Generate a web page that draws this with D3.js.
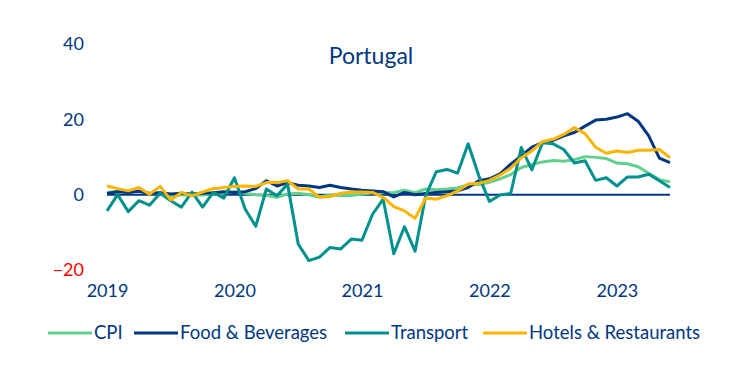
<!DOCTYPE html>
<html>
<head>
<meta charset="utf-8">
<script src="https://cdn.jsdelivr.net/npm/d3@7"></script>
<style>
  body { margin: 0; background: #fff; }
  svg { display: block; font-family: Lato, "Open Sans", sans-serif; }
</style>
</head>
<body>
<svg id="chart" width="752" height="375"></svg>
<script>
// monthly, Jan 2019 .. Jun 2023 (y/y %)
const startYear = 2019;
const yearLabels = ["2019", "2020", "2021", "2022", "2023"];
const yTicks = [-20, 0, 20, 40];

const cpi = [
  0.6, 0.9, 0.8, 0.9, 0.4, 0.5, -0.3, -0.1, -0.1, -0.1, 0.2, 0.4,
  0.8, 0.4, 0.0, -0.2, -0.7, 0.2, 0.4, 0.0, -0.6, -0.1, -0.2, -0.2,
  0.2, 0.5, 0.5, 0.6, 1.2, 0.5, 1.5, 1.3, 1.5, 1.8, 2.6, 2.7,
  3.3, 4.2, 5.3, 7.2, 8.0, 8.7, 9.1, 8.9, 9.3, 10.1, 9.9, 9.6,
  8.4, 8.2, 7.4, 5.7, 4.0, 3.4
];
const food = [
  0.3, 0.8, 0.6, 0.9, 0.3, 0.5, 0.2, 0.4, 0.2, 0.4, 0.5, 0.8,
  0.6, 0.8, 1.6, 3.7, 2.3, 3.2, 2.5, 2.3, 1.9, 2.5, 1.9, 1.5,
  1.2, 1.0, 0.8, -0.6, 0.6, 0.0, 0.3, 0.6, 0.8, 1.0, 1.9, 3.7,
  4.2, 5.5, 8.1, 10.3, 12.6, 13.8, 14.4, 15.6, 16.5, 18.2, 19.8, 20.0,
  20.6, 21.5, 19.5, 15.6, 9.7, 8.5
];
const transport = [
  -4.3, 0.0, -4.5, -1.6, -2.8, 0.4, -1.6, -3.3, 0.7, -3.3, 0.6, -0.9,
  4.5, -3.8, -8.4, 1.5, -0.3, 2.8, -13.1, -17.5, -16.6, -14.0, -14.4, -11.8,
  -12.1, -5.2, -1.2, -15.7, -8.5, -15.0, -0.3, 6.1, 6.7, 5.7, 13.5, 5.0,
  -1.8, -0.1, 0.3, 12.5, 6.6, 13.8, 13.5, 12.0, 8.4, 9.0, 3.8, 4.5,
  2.3, 4.7, 4.7, 5.4, 3.7, 1.9
];
const hotels = [
  2.3, 1.6, 1.0, 1.9, 0.1, 2.2, -1.4, 0.6, -0.3, 0.7, 1.6, 1.9,
  2.2, 2.3, 2.2, 3.2, 3.2, 3.7, 1.5, 1.5, -0.7, -0.5, 0.4, 0.7,
  0.7, 0.6, -0.7, -3.2, -4.3, -6.3, -0.9, -1.2, -0.3, 1.0, 2.8, 3.0,
  3.8, 5.2, 7.0, 9.8, 11.6, 14.1, 14.7, 16.0, 17.8, 16.2, 12.6, 11.0,
  11.6, 11.2, 11.8, 11.8, 12.0, 9.8
];

const seriesNames = ["CPI", "Food & Beverages", "Transport", "Hotels & Restaurants"];
const seriesColors = ["#62d08d", "#003781", "#00908d", "#fbb400"];
const seriesData = [cpi, food, transport, hotels];

const navy = "#003781";
const svg = d3.select("#chart");

const x = d3.scaleLinear().domain([0, cpi.length - 1]).range([107, 670]);
const y = d3.scaleLinear().domain([-20, 40]).range([270, 44]);

// title
svg.append("text")
  .attr("x", 371)
  .attr("y", 64)
  .attr("text-anchor", "middle")
  .attr("fill", navy)
  .style("font-size", "23px")
  .text("Portugal");

// y axis labels
const yAxis = svg.append("g")
  .attr("transform", "translate(84,0)")
  .call(d3.axisLeft(y).tickValues(yTicks).tickSize(0).tickPadding(0));
yAxis.select(".domain").remove();
yAxis.selectAll("text")
  .style("font-family", "Lato, sans-serif")
  .style("font-size", "18px")
  .attr("fill", (d) => (d < 0 ? "#ff0000" : navy));

// x axis labels (January of each year)
const xAxis = svg.append("g")
  .attr("transform", "translate(0,284)")
  .call(
    d3.axisBottom(x)
      .tickValues(yearLabels.map((d, i) => i * 12))
      .tickFormat((d) => String(startYear + d / 12))
      .tickSize(0)
      .tickPadding(0)
  );
xAxis.select(".domain").remove();
xAxis.selectAll("text")
  .style("font-family", "Lato, sans-serif")
  .style("font-size", "18px")
  .attr("fill", navy);

// zero line
svg.append("line")
  .attr("x1", x(0))
  .attr("x2", x(cpi.length - 1))
  .attr("y1", y(0))
  .attr("y2", y(0))
  .attr("stroke", navy)
  .attr("stroke-width", 2);

const line = d3.line()
  .x((d, i) => x(i))
  .y((d) => y(d));

seriesData.forEach((values, k) => {
  svg.append("path")
    .datum(values)
    .attr("fill", "none")
    .attr("stroke", seriesColors[k])
    .attr("stroke-width", 3)
    .attr("stroke-linejoin", "round")
    .attr("d", line);
});

// legend
const legendX = [48, 134, 345, 483];
const legend = svg.append("g").attr("transform", "translate(0,333)");
seriesNames.forEach((name, k) => {
  const g = legend.append("g").attr("transform", `translate(${legendX[k]},0)`);
  g.append("line")
    .attr("x1", 0)
    .attr("x2", 44)
    .attr("stroke", seriesColors[k])
    .attr("stroke-width", 3);
  g.append("text")
    .attr("x", 46)
    .attr("y", 6)
    .attr("fill", navy)
    .style("font-size", "18.5px")
    .text(name);
});
</script>
</body>
</html>
